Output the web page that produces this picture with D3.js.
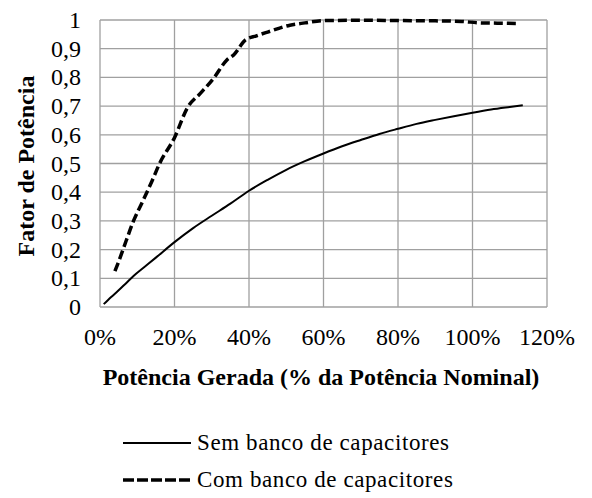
<!DOCTYPE html>
<html>
<head>
<meta charset="utf-8">
<script src="https://cdn.jsdelivr.net/npm/d3@7"></script>
<style>
  body { margin: 0; background: #fff; }
  text { font-family: "Liberation Serif", "Times New Roman", serif; fill: #000; }
</style>
</head>
<body>
<svg width="592" height="498"></svg>
<script>
// potência gerada (%) vs fator de potência
var semX = [1, 3, 5, 7, 9, 12, 15, 20, 25, 30, 35, 40, 45, 50, 55, 60, 65, 70, 75, 80, 85, 90, 95, 100, 105, 110, 113.5];
var semY = [0.01, 0.035, 0.058, 0.083, 0.108, 0.14, 0.172, 0.226, 0.275, 0.318, 0.36, 0.405, 0.443, 0.478, 0.508, 0.535, 0.56, 0.582, 0.603, 0.621, 0.638, 0.652, 0.665, 0.677, 0.688, 0.697, 0.703];

var comX = [4, 5, 7, 9, 11.6, 14, 16, 20, 23.5, 27, 30.5, 34, 36, 39, 42, 45, 51, 55, 60, 70, 80, 90, 97, 102, 107, 112.5];
var comY = [0.125, 0.158, 0.23, 0.3, 0.372, 0.44, 0.5, 0.59, 0.695, 0.745, 0.797, 0.86, 0.88, 0.93, 0.945, 0.958, 0.982, 0.99, 0.998, 0.999, 0.998, 0.997, 0.995, 0.99, 0.989, 0.988];

var xTicks = [0, 20, 40, 60, 80, 100, 120];
var yTicks = [0, 0.1, 0.2, 0.3, 0.4, 0.5, 0.6, 0.7, 0.8, 0.9, 1];
var seriesNames = ["Sem banco de capacitores", "Com banco de capacitores"];

var svg = d3.select("svg");
var plotLeft = 100, plotTop = 20, plotRight = 547, plotBottom = 307;

var x = d3.scaleLinear().domain([0, 120]).range([plotLeft, plotRight]);
var y = d3.scaleLinear().domain([0, 1]).range([plotBottom, plotTop]);

// grid
svg.selectAll(".gx").data(xTicks).enter().append("line")
    .attr("x1", function (d) { return x(d); })
    .attr("x2", function (d) { return x(d); })
    .attr("y1", plotTop).attr("y2", plotBottom)
    .style("stroke", "#a0a0a0").style("stroke-width", 1.3);
svg.selectAll(".gy").data(yTicks).enter().append("line")
    .attr("y1", function (d) { return y(d); })
    .attr("y2", function (d) { return y(d); })
    .attr("x1", plotLeft).attr("x2", plotRight)
    .style("stroke", "#a0a0a0").style("stroke-width", 1.3);

// tick labels
svg.selectAll(".ty").data(yTicks).enter().append("text")
    .attr("x", 81)
    .attr("y", function (d) { return y(d) + 8; })
    .attr("text-anchor", "end")
    .attr("font-size", 24)
    .text(function (d) { return d === 0 || d === 1 ? d : String(d).replace(".", ","); });

svg.selectAll(".tx").data(xTicks).enter().append("text")
    .attr("x", function (d) { return x(d); })
    .attr("y", 345)
    .attr("text-anchor", "middle")
    .attr("font-size", 24)
    .text(function (d) { return d + "%"; });

// axis titles
svg.append("text")
    .attr("x", 321).attr("y", 385)
    .attr("text-anchor", "middle")
    .attr("font-size", 24).attr("font-weight", "bold")
    .text("Potência Gerada (% da Potência Nominal)");
svg.append("text")
    .attr("transform", "translate(34,166) rotate(-90)")
    .attr("text-anchor", "middle")
    .attr("font-size", 24).attr("font-weight", "bold")
    .text("Fator de Potência");

var line = d3.line()
    .x(function (d) { return x(d[0]); })
    .y(function (d) { return y(d[1]); })
    .curve(d3.curveMonotoneX);

svg.append("path")
    .datum(d3.zip(semX, semY))
    .attr("d", line)
    .style("fill", "none").style("stroke", "#000").style("stroke-width", 2);

svg.append("path")
    .datum(d3.zip(comX, comY))
    .attr("d", line)
    .style("fill", "none").style("stroke", "#000").style("stroke-width", 3.5)
    .style("stroke-dasharray", "9,4");

// legend
var legend = svg.selectAll(".leg").data(seriesNames).enter().append("g")
    .attr("transform", function (d, i) { return "translate(123," + (443 + i * 37) + ")"; });
legend.append("line")
    .attr("x1", 0).attr("x2", 68).attr("y1", 0).attr("y2", 0)
    .style("stroke", "#000")
    .style("stroke-width", function (d, i) { return i ? 3.5 : 2; })
    .style("stroke-dasharray", function (d, i) { return i ? "11,3" : null; });
legend.append("text")
    .attr("x", 74).attr("y", 7)
    .attr("font-size", 23)
    .attr("letter-spacing", 0.6)
    .text(function (d) { return d; });
</script>
</body>
</html>
